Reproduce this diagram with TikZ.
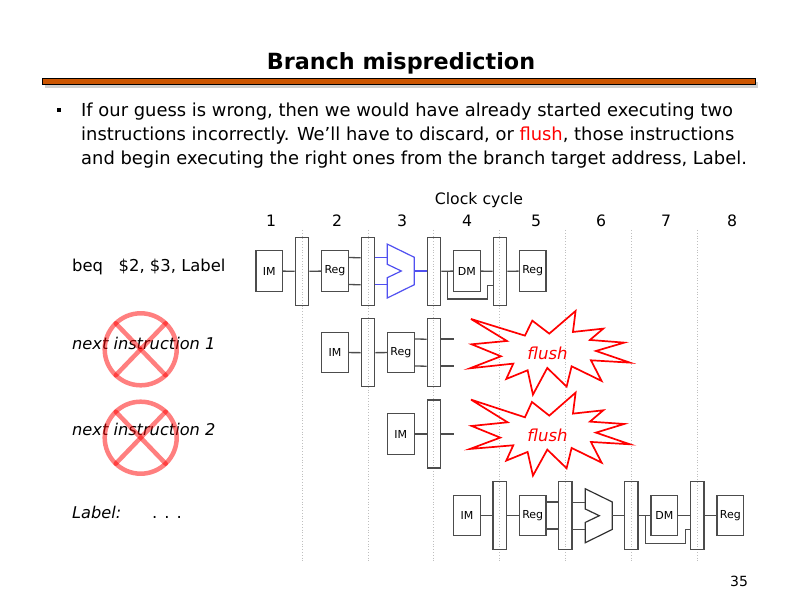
\documentclass[tikz,border=0pt]{standalone}
\usepackage{fontspec}
\setmainfont{DejaVu Sans}
\usetikzlibrary{calc}
\definecolor{wirec}{gray}{0.3}
\definecolor{barc}{HTML}{CC5500}
\definecolor{aluc}{HTML}{5050F0}
\definecolor{flushc}{HTML}{FF0000}
\tikzset{
 px/.style={x=1pt,y=-1pt},
 unitbox/.style={draw=wirec,line width=1.3pt,minimum width=26.7pt,minimum height=40.5pt,inner sep=0pt,font=\fontsize{11}{12}\selectfont},
 latch/.style={draw=wirec,line width=1.3pt,minimum width=13.3pt,minimum height=68pt,inner sep=0pt},
 wire/.style={draw=wirec,line width=1.3pt},
 bluew/.style={draw=aluc,line width=1.3pt},
 alu/.style={line width=1.2pt,line join=miter},
 gridl/.style={draw=black!25,line width=0.8pt,dotted},
 txt/.style={anchor=base west,inner sep=0pt,font=\fontsize{17.9}{19}\selectfont},
 lbl/.style={anchor=base west,inner sep=0pt,font=\fontsize{16.4}{17}\selectfont},
 lbli/.style={lbl,font=\fontsize{16.2}{17}\selectfont\itshape},
 num/.style={anchor=base,inner sep=0pt,font=\fontsize{15.7}{17}\selectfont},
 star/.style={draw=flushc,line width=1.7pt,line join=miter,miter limit=8},
 flushlbl/.style={anchor=base,inner sep=0pt,text=flushc,font=\fontsize{16.5}{18}\selectfont\itshape},
 stop/.style={draw=red,opacity=0.5,line width=4.5pt,line cap=round},
}
\newcommand{\aluat}[4]{% name x ycentre colour
 \draw[alu,draw=#4] (#2,#3-26.9) -- (#2+27,#3-13.7) -- (#2+27,#3+13.7) -- (#2,#3+27) -- (#2,#3+6.7) -- (#2+14,#3) -- (#2,#3-6.7) -- cycle;
 \coordinate (#1a) at (#2,#3-13.5);
 \coordinate (#1b) at (#2,#3+13.5);
 \coordinate (#1o) at (#2+27,#3);
}
\begin{document}
\begin{tikzpicture}[px]
\useasboundingbox (0,0) rectangle (792,612);
% title
\node[anchor=base,inner sep=0pt,font=\fontsize{22.3}{26}\selectfont\bfseries] (title) at (401,69.5) {Branch misprediction};
\fill[black!18] (45,82) rectangle (758,88);
\draw[black,fill=barc,line width=1pt] (42.5,78.5) rectangle (755,84.5);
\fill (56.7,107.7) rectangle (61.3,112.3);
\node[txt] (l1) at (81,116.5) {If our guess is wrong, then we would have already started executing two};
\node[txt] (l2) at (81,140.5) {instructions incorrectly. We’ll have to discard, or \textcolor{red}{flush}, those instructions};
\node[txt] (l3) at (81,164.5) {and begin executing the right ones from the branch target address, Label.};
% clock
\node[num] (cc) at (479,204.5) {Clock cycle};
\foreach \x/\n in {271/1,337/2,402/3,467/4,536/5,601/6,666/7,732/8}
  \node[num] (c\n) at (\x,226.5) {\n};
% grid
\foreach \x in {302,368,433.7,499.7,565.5,631.5,697.3}
  \draw[gridl] (\x,230) -- (\x,562.7);
% row labels
\node[lbl] (r1) at (72,272) {beq\hspace{0.95em}\$2, \$3, Label};
\node[lbli] (r2) at (72,349.5) {next instruction 1};
\node[lbli] (r3) at (72,435.5) {next instruction 2};
\node[lbli] (r4) at (72,518) {Label:};
\node[lbl] (r4b) at (152,518) {. . .};
% row 1
\node[unitbox] (a1) at (269.2,271) {IM};
\node[latch] (a2) at (302,271.3) {};
\node[unitbox] (a3) at (335,271) {Reg};
\node[latch] (a4) at (368,271.3) {};
\aluat{a5}{387.3}{271}{aluc}
\node[latch] (a6) at (434,271.3) {};
\node[unitbox] (a7) at (466.8,271) {DM};
\node[latch] (a8) at (500,271.3) {};
\node[unitbox] (a9) at (532.7,271) {Reg};
\draw[wire] (a1) -- (a2);
\draw[wire] (a2) -- (a3);
\draw[wire] ([yshift=13.5pt]a3.east) -- ([yshift=13.5pt]a4.west);
\draw[wire] ([yshift=-13.5pt]a3.east) -- ([yshift=-13.5pt]a4.west);
\draw[bluew] (a5a -| a4.east) -- (a5a);
\draw[bluew] (a5b -| a4.east) -- (a5b);
\draw[bluew] (a5o) -- (a5o -| a6.west);
\draw[wire] (a6) -- (a7);
\draw[wire] (a7) -- (a8);
\draw[wire] (a8) -- (a9);
\draw[wire] ($(a6.east)+(6.3,0)$) |- ($(a7.south east)+(6.4,7)$) |- ([yshift=-14pt]a8.west);
% row 2
\node[unitbox] (b1) at (335,352.5) {IM};
\node[latch] (b2) at (368,352.7) {};
\node[unitbox] (b3) at (400.8,352.5) {Reg};
\node[latch] (b4) at (434,352.7) {};
\coordinate (b5) at (453.7,339);
\coordinate (b6) at (453.7,366);
\draw[wire] (b1) -- (b2);
\draw[wire] (b2) -- (b3);
\draw[wire] ([yshift=13.5pt]b3.east) -- ([yshift=13.5pt]b4.west);
\draw[wire] ([yshift=-13.5pt]b3.east) -- ([yshift=-13.5pt]b4.west);
\draw[wire] (b5 -| b4.east) -- (b5);
\draw[wire] (b6 -| b4.east) -- (b6);
% row 3
\node[unitbox] (d1) at (400.8,434) {IM};
\node[latch] (d2) at (434,434) {};
\coordinate (d3) at (453.7,434);
\draw[wire] (d1) -- (d2);
\draw[wire] (d2) -- (d3);
% row 4
\node[unitbox] (e1) at (467,515.5) {IM};
\node[latch] (e2) at (499.7,515.5) {};
\node[unitbox] (e3) at (532.7,515.5) {Reg};
\node[latch] (e4) at (565.3,515.5) {};
\aluat{e5}{585.3}{515.7}{black!80}
\node[latch] (e6) at (631.3,515.5) {};
\node[unitbox] (e7) at (664.3,515.5) {DM};
\node[latch] (e8) at (697.3,515.5) {};
\node[unitbox] (e9) at (730.3,515.5) {Reg};
\draw[wire] (e1) -- (e2);
\draw[wire] (e2) -- (e3);
\draw[wire] ([yshift=13.5pt]e3.east) -- ([yshift=13.5pt]e4.west);
\draw[wire] ([yshift=-13.5pt]e3.east) -- ([yshift=-13.5pt]e4.west);
\draw[wire] (e5a -| e4.east) -- (e5a);
\draw[wire] (e5b -| e4.east) -- (e5b);
\draw[wire] (e5o) -- (e5o -| e6.west);
\draw[wire] (e6) -- (e7);
\draw[wire] (e7) -- (e8);
\draw[wire] (e8) -- (e9);
\draw[wire] ($(e6.east)+(6.7,0)$) |- ($(e7.south east)+(7,7)$) |- ([yshift=-14pt]e8.west);
% flush stars
\begin{scope}[x=0.3333pt,y=-0.3333pt,shift={(1320,900)}]
\draw[star] (93,57)--(255,107)--(277,62)--(328,101)--(407,33)--(399,96)--(490,86)--(450,120)--(553,128)--(468,153)--(570,188)--(453,181)--(485,243)--(395,199)--(380,260)--(322,204)--(279,284)--(263,211)--(199,237)--(220,191)--(90,205)--(183,169)--(95,133)--(201,123)--cycle;
\draw[star] (93,299)--(255,352)--(276,306)--(328,347)--(407,278)--(399,341)--(490,331)--(450,365)--(553,372)--(468,398)--(570,433)--(453,426)--(485,488)--(395,444)--(380,505)--(322,449)--(279,527)--(263,456)--(199,482)--(220,436)--(90,447)--(181,413)--(95,378)--(203,367)--cycle;
\end{scope}
\node[flushlbl] (f1) at (547.5,359) {flush};
\node[flushlbl] (f2) at (547.5,441) {flush};
% stop signs
\foreach \cy in {349.3,437.7}{
  \draw[stop] (140.7,\cy) circle (36);
  \draw[stop] (115.7,\cy-26) -- (165.7,\cy+26);
  \draw[stop] (165.7,\cy-26) -- (115.7,\cy+26);
}
\node[anchor=base,inner sep=0pt,font=\fontsize{14}{16}\selectfont] (pg) at (739,586) {35};
\end{tikzpicture}
\end{document}
